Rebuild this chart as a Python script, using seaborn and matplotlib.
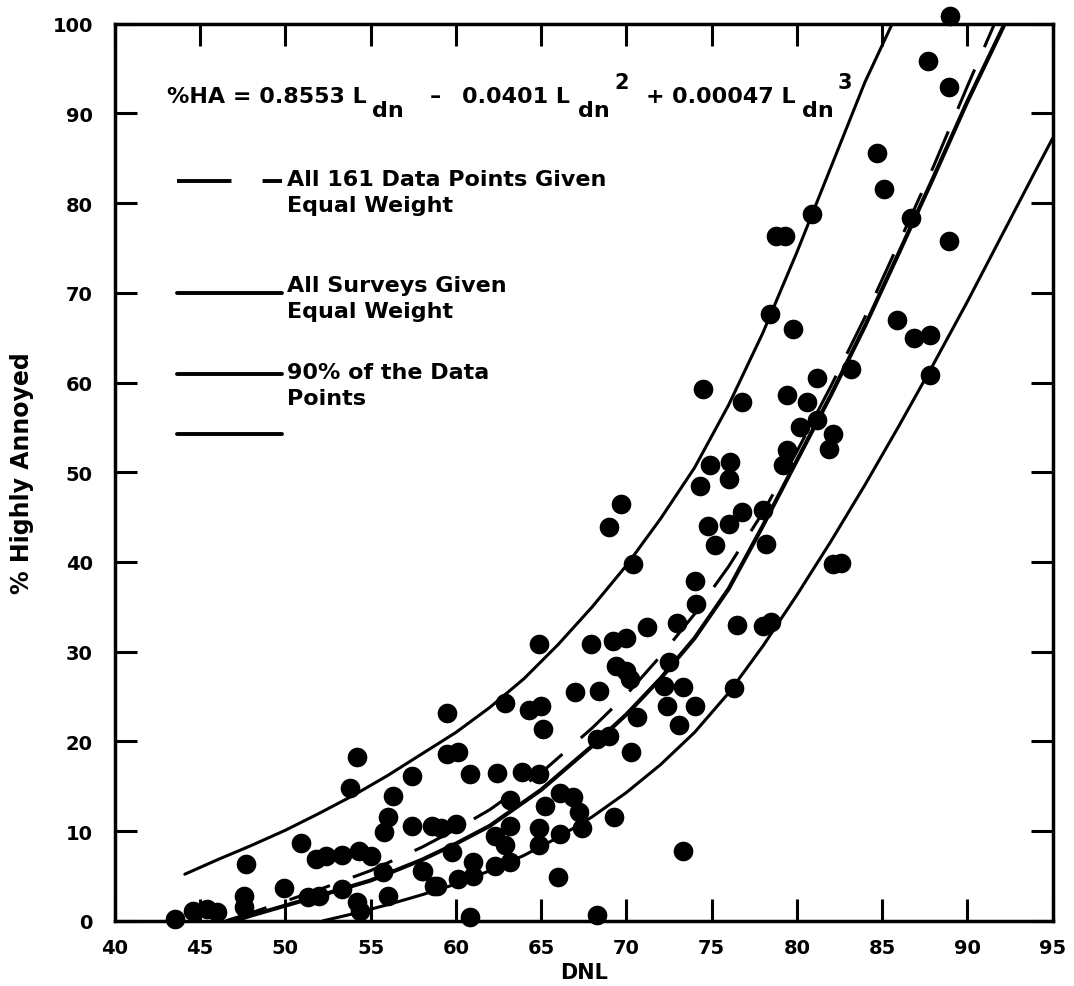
import matplotlib
matplotlib.use("Agg")
import matplotlib.pyplot as plt
import pandas as pd
import seaborn as sns

# --------------------------------------------------------------------------- #
# Data (DNL vs % highly annoyed)
# --------------------------------------------------------------------------- #
dnl = [43.5, 44.6, 45.4, 46.0, 47.6, 47.6, 47.7, 49.9, 50.9, 51.3, 51.8, 52.0,
       52.4, 53.3, 54.3, 55.0, 53.8, 54.2, 54.2, 54.4, 55.7, 55.8, 56.0, 56.0,
       56.3, 57.4, 58.0, 58.1, 58.6, 58.7, 59.1, 58.9, 59.5, 59.5, 59.8, 60.1,
       60.1, 60.8, 60.8, 61.0, 61.0, 62.3, 62.3, 62.4, 62.9, 62.9, 63.2, 63.2,
       63.9, 64.3, 64.9, 64.9, 64.9, 64.9, 65.1, 65.2, 66.0, 66.1, 66.1, 66.9,
       67.0, 67.2, 67.4, 67.9, 68.3, 68.4, 69.0, 69.0, 69.2, 69.3, 69.7, 70.0,
       70.0, 70.3, 70.4, 70.6, 71.2, 72.4, 72.5, 73.0, 73.1, 73.3, 73.3, 74.0,
       74.0, 74.1, 74.3, 74.5, 74.8, 74.9, 75.2, 76.0, 76.0, 76.1, 76.3, 76.5,
       76.8, 76.8, 78.0, 78.2, 78.0, 78.4, 78.5, 78.8, 79.3, 79.2, 79.4, 79.4,
       79.8, 80.2, 80.6, 80.9, 81.2, 81.2, 81.9, 82.1, 82.1, 82.6, 83.2, 84.7,
       85.1, 85.9, 86.7, 86.9, 87.7, 87.8, 87.8, 88.9, 88.9, 89.0, 60.0, 63.2,
       65.0, 68.3, 70.2, 72.2, 53.3, 57.4, 69.4]
pct_ha = [0.2, 1.1, 1.3, 1.0, 2.8, 1.6, 6.3, 3.7, 8.7, 2.7, 6.9, 2.8,
          7.2, 7.3, 7.8, 7.2, 14.8, 18.3, 2.1, 1.1, 5.5, 9.9, 11.6, 2.8,
          13.9, 16.1, 5.6, 5.6, 10.6, 3.9, 10.3, 3.9, 23.2, 18.6, 7.7, 4.7,
          18.8, 0.4, 16.4, 6.6, 5.0, 6.1, 9.5, 16.5, 24.3, 8.4, 6.6, 10.6,
          16.6, 23.5, 30.9, 10.3, 8.4, 16.4, 21.4, 12.8, 4.9, 9.7, 14.3, 13.8,
          25.5, 12.1, 10.3, 30.9, 0.6, 25.6, 43.9, 20.6, 31.2, 11.6, 46.5, 31.5,
          27.8, 18.8, 39.8, 22.7, 32.8, 24.0, 28.9, 33.2, 21.8, 26.1, 7.8, 23.9,
          37.9, 35.3, 48.5, 59.3, 44.0, 50.8, 41.9, 49.3, 44.2, 51.2, 26.0, 33.0,
          57.8, 45.6, 45.8, 42.0, 32.9, 67.6, 33.3, 76.3, 76.3, 50.8, 58.6, 52.5,
          66.0, 55.0, 57.8, 78.8, 60.5, 55.8, 52.6, 54.3, 39.8, 39.9, 61.5, 85.6,
          81.6, 67.0, 78.3, 65.0, 95.8, 65.3, 60.8, 92.9, 75.8, 100.8, 10.8, 13.5,
          23.9, 20.3, 27.0, 26.2, 3.6, 10.6, 28.4]

# Upper and lower bounds containing 90% of the data points
upper_dnl = [44.1, 46, 48, 50, 52, 54, 56, 58, 60, 62, 64, 66, 68, 70, 72, 74,
             76, 78, 80, 82, 84, 85.6]
upper_ha = [5.2, 6.8, 8.4, 10.1, 12.0, 14.0, 16.2, 18.6, 21.0, 23.8, 27.0, 30.8,
            35.0, 39.6, 44.8, 50.5, 57.5, 65.5, 74.5, 84.0, 93.5, 100]
lower_dnl = [52.2, 54, 56, 58, 60, 62, 64, 66, 68, 70, 72, 74, 76, 78, 80, 82,
             84, 86, 88, 90, 92, 94, 95]
lower_ha = [0, 0.8, 1.8, 2.9, 4.1, 5.6, 7.3, 9.3, 11.6, 14.3, 17.4, 21.0, 25.4,
            30.6, 36.3, 42.3, 48.6, 55.2, 62.0, 69.0, 76.3, 83.6, 87.2]

# All surveys given equal weight (solid) / all 161 points equal weight (dashed)
survey_dnl = [47, 48, 50, 52, 55, 58, 60, 62, 65, 68, 70, 72, 74, 76, 78, 80,
              82, 84, 86, 88, 90, 92.2]
survey_ha = [0, 0.6, 1.7, 2.8, 4.5, 6.8, 8.6, 10.6, 14.6, 19.5, 23.0, 27.0, 31.5,
             37.0, 44.0, 51.3, 58.6, 66.3, 74.5, 82.8, 91.3, 100]
points_dnl = [46.5, 48, 50, 52, 55, 58, 60, 62, 65, 68, 70, 72, 74, 76, 78, 80,
              82, 84, 86, 88, 90, 91.6]
points_ha = [0, 0.9, 2.2, 3.5, 5.6, 8.2, 10.2, 12.4, 16.5, 21.5, 25.2, 29.5, 34.2,
             39.5, 45.5, 52.3, 59.6, 67.3, 75.6, 84.0, 93.0, 100]

X_TICKS = list(range(40, 96, 5))
Y_TICKS = list(range(0, 101, 10))

# equation pieces: (text, x in axes fraction, baseline, font size)
EQ_PARTS = [("%HA = 0.8553 L", 0.0555, 0.913, 16),
            ("dn", 0.274, 0.897, 16),
            ("\u2013", 0.336, 0.913, 16),
            ("0.0401 L", 0.370, 0.913, 16),
            ("dn", 0.494, 0.897, 16),
            ("2", 0.533, 0.928, 15),
            ("+", 0.566, 0.913, 16),
            ("0.00047 L", 0.594, 0.913, 16),
            ("dn", 0.733, 0.897, 16),
            ("3", 0.771, 0.928, 15)]

# --------------------------------------------------------------------------- #
# Styling
# --------------------------------------------------------------------------- #
sns.set_style("ticks")
INK = "black"
plt.rcParams["font.family"] = ["DejaVu Sans"]
plt.rcParams.update({"text.color": INK, "axes.labelcolor": INK,
                     "xtick.color": INK, "ytick.color": INK})
LW = 2.2
DASH = (0, (14, 8))
FONT = 16

fig = plt.figure(figsize=(10.74, 9.87), dpi=100)
ax = fig.add_axes([0.107, 0.066, 0.873, 0.909])

df_pts = pd.DataFrame({"DNL": dnl, "HA": pct_ha})
sns.scatterplot(data=df_pts, x="DNL", y="HA", ax=ax, color=INK, s=200,
                edgecolor=INK, linewidth=0, zorder=3, clip_on=False)

for xs, ys, style, lw in [(upper_dnl, upper_ha, "-", LW),
                          (lower_dnl, lower_ha, "-", LW),
                          (survey_dnl, survey_ha, "-", LW + 0.8),
                          (points_dnl, points_ha, DASH, LW)]:
    sns.lineplot(x=xs, y=ys, ax=ax, color=INK, linewidth=lw, linestyle=style,
                 sort=False, estimator=None, zorder=2)

ax.set_xlim(40, 95)
ax.set_ylim(0, 100)
ax.set_xticks(X_TICKS)
ax.set_yticks(Y_TICKS)
ax.tick_params(direction="in", length=16, width=2.2, top=True, right=True,
               labelsize=14)
ax.tick_params(axis="x", pad=12)
ax.tick_params(axis="y", pad=16)
for lab in ax.get_xticklabels() + ax.get_yticklabels():
    lab.set_fontweight("bold")
for sp in ax.spines.values():
    sp.set_linewidth(2.5)
    sp.set_color(INK)
    sp.set_visible(True)

ax.set_xlabel("DNL", fontsize=15, fontweight="bold", labelpad=4)
ax.set_ylabel("% Highly Annoyed", fontsize=17, fontweight="bold", labelpad=13)

# equation written piece by piece, with full-size subscripts like the original
for txt, x, y, size in EQ_PARTS:
    ax.text(x, y, txt, transform=ax.transAxes, fontsize=size,
            fontweight="bold", va="baseline")

key = [(0.825, DASH, 0.838, "All 161 Data Points Given\nEqual Weight"),
       (0.700, "-", 0.720, "All Surveys Given\nEqual Weight"),
       (0.610, "-", 0.623, "90% of the Data\nPoints"),
       (0.543, "-", None, None)]
for y, style, ty, label in key:
    ax.plot([0.066, 0.178], [y, y], transform=ax.transAxes, color=INK,
            linewidth=LW + 0.6, linestyle=style, clip_on=False)
    if label:
        ax.text(0.184, ty, label, transform=ax.transAxes, fontsize=FONT,
                fontweight="bold", va="top", linespacing=1.4)

fig.savefig("out.png", dpi=100)
